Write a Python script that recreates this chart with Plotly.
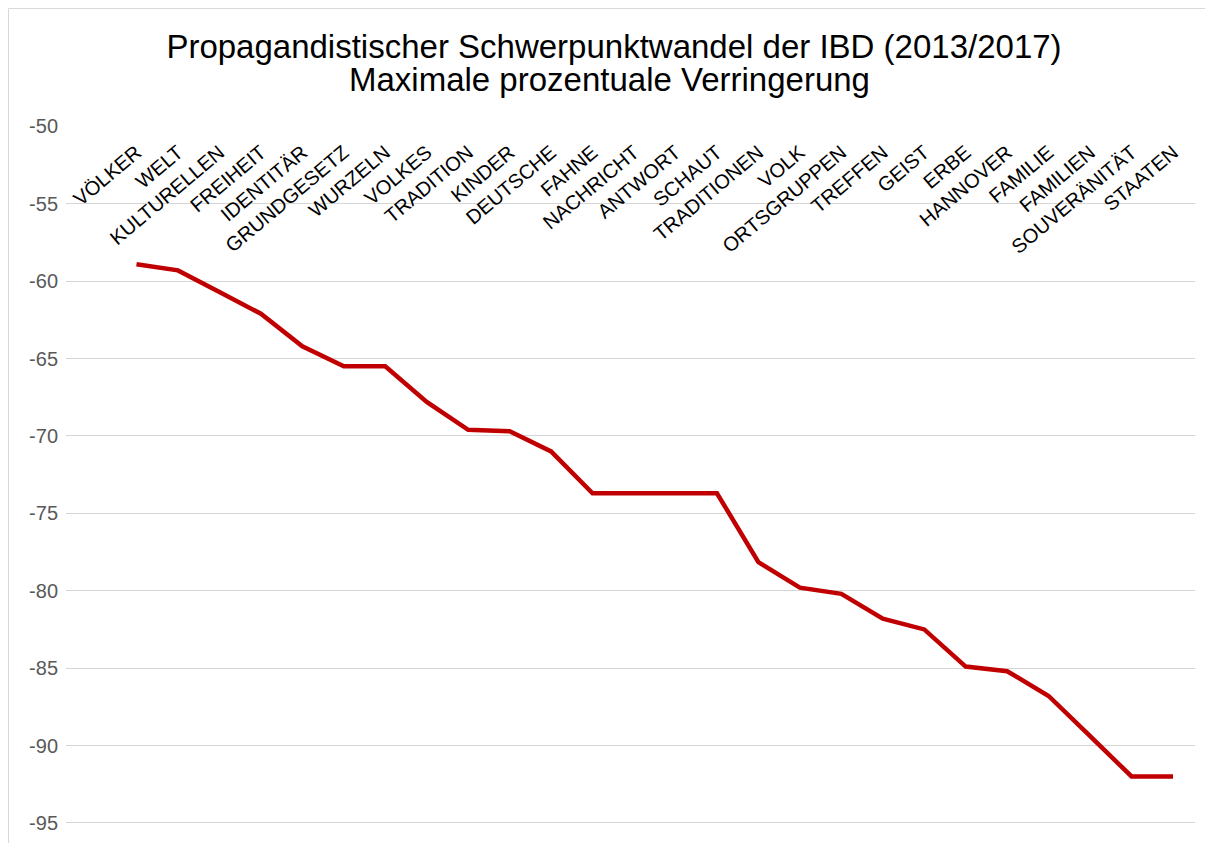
import plotly.graph_objects as go

categories = ["VÖLKER", "WELT", "KULTURELLEN", "FREIHEIT", "IDENTITÄR", "GRUNDGESETZ",
              "WURZELN", "VOLKES", "TRADITION", "KINDER", "DEUTSCHE", "FAHNE",
              "NACHRICHT", "ANTWORT", "SCHAUT", "TRADITIONEN", "VOLK", "ORTSGRUPPEN",
              "TREFFEN", "GEIST", "ERBE", "HANNOVER", "FAMILIE", "FAMILIEN",
              "SOUVERÄNITÄT", "STAATEN"]
values = [-58.9, -59.3, -60.7, -62.1, -64.2, -65.5,
          -65.5, -67.8, -69.6, -69.7, -71.0, -73.7,
          -73.7, -73.7, -73.7, -78.15, -79.8, -80.2,
          -81.8, -82.5, -84.9, -85.2, -86.8, -89.4,
          -92.0, -92.0]
y_ticks = [-50, -55, -60, -65, -70, -75, -80, -85, -90, -95]

FONT = "Liberation Sans, Arial, sans-serif"

# the page body adds an 8px offset; the figure is sized to fit the 1213x843 window
OFF = 8
W, H = 1213 - OFF, 843 - OFF
L = 66 - OFF
T = 126 - OFF
R = W - (1195 - OFF)
B = 0
PW, PH = W - L - R, H - T - B


def px(x):
    return (x - OFF - L) / PW


def py(y):
    return (H - B - (y - OFF)) / PH


fig = go.Figure()
fig.add_trace(go.Scatter(
    x=categories, y=values, mode="lines",
    line=dict(color="#C00000", width=4.5),
    hoverinfo="x+y", showlegend=False,
))

fig.update_layout(
    width=W, height=H,
    margin=dict(l=L, r=R, t=T, b=B),
    paper_bgcolor="white", plot_bgcolor="white",
    font=dict(family=FONT),
    title=dict(
        text="Propagandistischer Schwerpunktwandel der IBD (2013/2017)",
        x=(614 - OFF) / W, xref="container", xanchor="center",
        y=1 - (46 - OFF) / H, yref="container", yanchor="middle",
        font=dict(family=FONT, size=33, color="#000000"),
    ),
    annotations=[dict(
        text="Maximale prozentuale Verringerung",
        xref="paper", x=px(609), xanchor="center",
        yref="paper", y=py(79), yanchor="middle",
        showarrow=False,
        font=dict(family=FONT, size=33, color="#000000"),
    )],
    shapes=[
        dict(type="line", xref="paper", yref="paper",
             x0=px(8.5), x1=px(8.5), y0=py(843), y1=py(8.5),
             line=dict(color="#d9d9d9", width=1)),
        dict(type="line", xref="paper", yref="paper",
             x0=px(8.5), x1=px(1213), y0=py(8.5), y1=py(8.5),
             line=dict(color="#d9d9d9", width=1)),
    ],
    xaxis=dict(
        type="category",
        range=[-1.70, 25.53],
        anchor="free", position=py(136), side="bottom",
        automargin=False,
        showgrid=False, showline=False, zeroline=False, ticks="",
        tickangle=-40,
        tickfont=dict(family=FONT, size=20, color="#000000"),
    ),
    yaxis=dict(
        range=[-96.3, -49.97],
        tickvals=y_ticks,
        ticktext=[str(v) for v in y_ticks],
        automargin=False,
        showgrid=True, gridcolor="#d6d6d6", gridwidth=1,
        zeroline=False, showline=False, ticks="",
        ticklabelstandoff=7,
        tickfont=dict(family=FONT, size=20, color="#595959"),
    ),
)

fig.write_html("out.html")
